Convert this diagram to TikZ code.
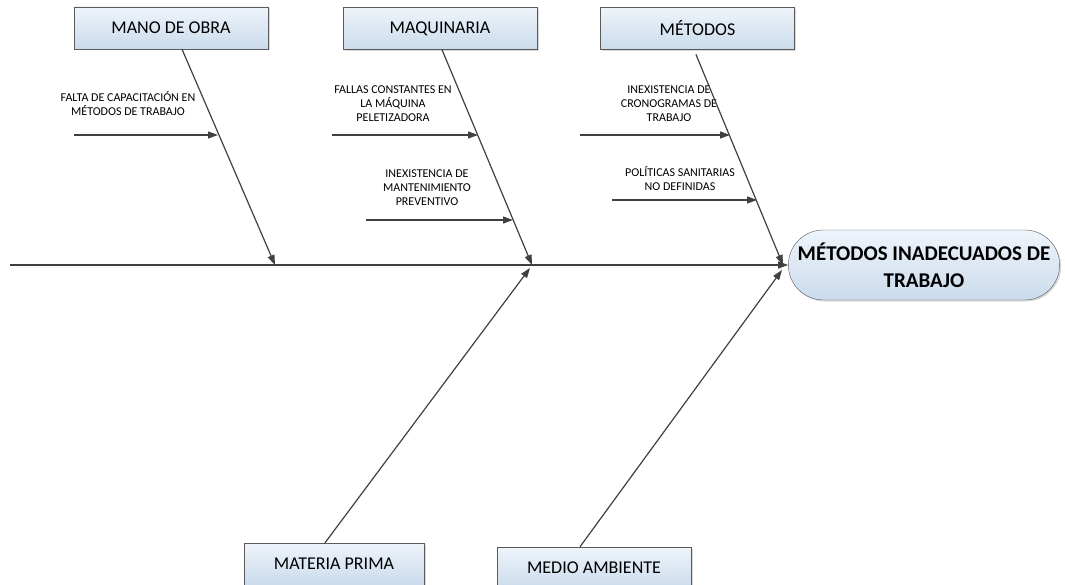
\documentclass[tikz,border=0pt]{standalone}
\usepackage{fontspec}
\setmainfont{Carlito}
\usetikzlibrary{arrows.meta,shapes.misc,shadows,positioning}
\definecolor{linea}{RGB}{64,64,64}
\definecolor{borde}{RGB}{90,90,90}
\definecolor{cajaarriba}{RGB}{238,244,250}
\definecolor{cajaabajo}{RGB}{203,219,236}

\begin{document}
\begin{tikzpicture}[x=1pt, y=-1pt, >={Triangle[length=10pt,width=7pt]},
	causa/.style={rectangle, draw=borde, top color=cajaarriba, bottom color=cajaabajo,
		minimum width=194pt, minimum height=42pt, font=\fontsize{18}{20}\selectfont,
		drop shadow={shadow xshift=1.5pt, shadow yshift=-1.5pt, opacity=.3}},
	efecto/.style={rounded rectangle, draw=borde, top color=cajaarriba, bottom color=cajaabajo,
		minimum width=278pt, minimum height=70pt, align=center,
		font=\fontsize{21}{27}\selectfont\bfseries,
		drop shadow={shadow xshift=1.5pt, shadow yshift=-1.5pt, opacity=.3}},
	nota/.style={align=center, inner sep=0pt, font=\fontsize{12}{14}\selectfont},
	hueso/.style={every edge/.style={draw=linea, line width=1.2pt, ->}}]
	\useasboundingbox (0,0) rectangle (1065,585);

	\node[causa] (mano) at (171,28) {MANO DE OBRA};
	\node[causa] (maquinaria) at (440,28.5) {MAQUINARIA};
	\node[causa] (metodos) at (697.5,28.5) {MÉTODOS};
	\node[causa, minimum width=180pt] (materia) at (334,564) {MATERIA PRIMA};
	\node[causa] (medio) at (594,568) {MEDIO AMBIENTE};
	\node[efecto] (problema) at (924,265) {MÉTODOS INADECUADOS DE\\TRABAJO};

	\node[nota] (falta) at (128,104) {FALTA DE CAPACITACIÓN EN\\MÉTODOS DE TRABAJO};
	\node[nota] (fallas) at (393,103.5) {FALLAS CONSTANTES EN\\LA MÁQUINA\\PELETIZADORA};
	\node[nota] (mantenimiento) at (427,188) {INEXISTENCIA DE\\MANTENIMIENTO\\PREVENTIVO};
	\node[nota] (cronogramas) at (669,103.5) {INEXISTENCIA DE\\CRONOGRAMAS DE\\TRABAJO};
	\node[nota] (politicas) at (680,179) {POLÍTICAS SANITARIAS\\NO DEFINIDAS};

	\coordinate (inicio) at (10,265);
	\coordinate (t1) at (275,265);
	\coordinate (t2) at (532,265);
	\coordinate (t3) at (783,265);
	\coordinate (t4) at (530,268);
	\coordinate (t5) at (782,270);

	\coordinate (r1a) at (74,135);
	\coordinate (r1b) at (218,135);
	\coordinate (r2a) at (332,135);
	\coordinate (r2b) at (478,135);
	\coordinate (r3a) at (366,220);
	\coordinate (r3b) at (513,220);
	\coordinate (r4a) at (580,135);
	\coordinate (r4b) at (730,135);
	\coordinate (r5a) at (612,200);
	\coordinate (r5b) at (757,200);

	\path[hueso]
		(inicio) edge (problema)

		([xshift=11pt]mano.south) edge (t1)
		([xshift=2pt]maquinaria.south) edge (t2)
		([xshift=-3.5pt]metodos.south) edge[shorten <=5pt] (t3)
		([xshift=-9pt]materia.north) edge (t4)
		([xshift=-14pt]medio.north) edge (t5)

		(r1a) edge (r1b)
		(r2a) edge (r2b)
		(r3a) edge (r3b)
		(r4a) edge (r4b)
		(r5a) edge (r5b);

\end{tikzpicture}
\end{document}
